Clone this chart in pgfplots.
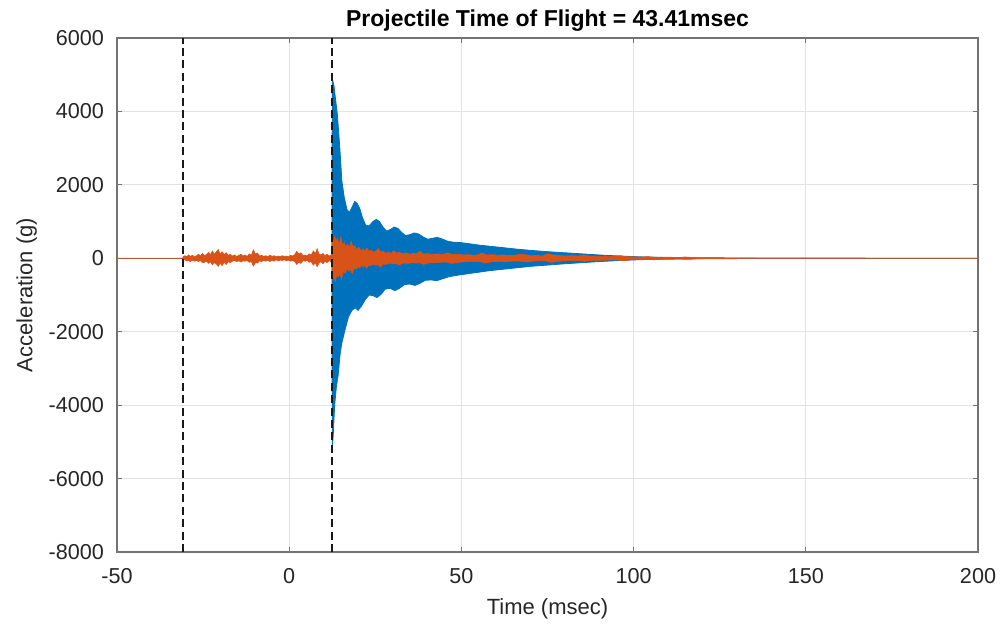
\documentclass[border=0pt]{standalone}
\usepackage{fontspec}
\setmainfont{Liberation Sans}
\usepackage{pgfplots}
\pgfplotsset{compat=1.18}
\definecolor{mblue}{rgb}{0,0.447,0.741}
\definecolor{morange}{rgb}{0.85,0.325,0.098}
\definecolor{axgray}{gray}{0.45}
\definecolor{gridgray}{gray}{0.89}
\begin{document}
\begin{tikzpicture}
\useasboundingbox (-58.5pt,-37pt) rectangle (444pt,276pt);
\begin{axis}[
  at={(0,0)}, anchor=south west,
  scale only axis, width=430.5pt, height=257pt,
  xmin=-50, xmax=200, ymin=-8000, ymax=6000,
  xtick={-50,0,50,100,150,200},
  ytick={-8000,-6000,-4000,-2000,0,2000,4000,6000},
  scaled y ticks=false,
  /pgf/number format/assume math mode=true,
  /pgf/number format/1000 sep={},
  tick label style={font=\fontsize{10.8}{12}\selectfont, text=black!85},
  label style={font=\fontsize{11}{13}\selectfont, text=black!85},
  title style={font=\fontsize{11.5}{13}\selectfont\bfseries, yshift=-6pt},
  title={Projectile Time of Flight = 43.41msec},
  xlabel={Time (msec)},
  ylabel={Acceleration (g)},
  grid=major, major grid style={gridgray, line width=0.5pt},
  axis line style={axgray, line width=0.6pt},
  tick style={axgray, line width=0.6pt},
  tick align=inside, major tick length=2.5pt,
  xticklabel style={yshift=-4.5pt},
  yticklabel style={xshift=-3pt},
  ylabel style={yshift=-1pt},
  xlabel style={yshift=-0.5pt},
]
% blue baseline before impact
\addplot[mblue!60!gray, line width=0.3pt] coordinates {(-50,0) (12.4,0)};
% blue (sensor 1) signal envelope
\addplot[fill=mblue, draw=mblue, line width=0.4pt] coordinates {
(12.4,0) (12.5,4900) (13.0,4700) (13.5,4300) (14.0,3900) (14.7,3000)
(15.3,2100) (16.0,1650) (16.8,1320) (17.5,1250) (18.3,1400) (19.0,1550) (19.7,1500)
(20.5,1350) (21.3,1100) (22.2,900) (23.2,880) (24.3,1000) (25.3,1060) (26.3,990)
(27.3,840) (28.3,740) (29.3,780) (30.5,850) (31.6,810) (32.7,700) (33.8,620)
(35.0,640) (36.3,690) (37.6,660) (38.9,580) (40.2,520) (41.5,540) (42.9,570)
(44.3,530) (45.8,470) (47.5,440) (49.5,430) (52,400) (55,360) (58,330) (62,290)
(66,250) (70,215) (75,180) (80,150) (85,120) (90,90) (95,65) (100,45) (105,30)
(110,20) (120,12) (140,6) (170,3) (200,2)
(200,-2) (170,-3) (140,-6) (120,-12) (110,-20) (105,-30) (100,-45) (95,-65)
(90,-90) (85,-120) (80,-150) (75,-185) (70,-220) (66,-260) (62,-300) (58,-340)
(55,-380) (52,-420) (49,-460) (46.5,-500) (44.5,-560) (42.9,-610) (41.2,-590)
(39.5,-600) (38.0,-680) (36.5,-740) (34.9,-700) (33.4,-720) (32.0,-820)
(30.7,-880) (29.3,-820) (27.9,-840) (26.7,-980) (25.5,-1070) (24.4,-1020)
(23.2,-1000) (22.0,-1140) (21.0,-1300) (20.0,-1420) (19.2,-1350) (18.2,-1420)
(17.2,-1600) (16.2,-1950) (15.3,-2300) (14.8,-2600) (14.2,-3200) (13.7,-3500)
(13.2,-4000) (12.8,-4800) (12.5,-5200) (12.4,0)
} -- cycle;
% orange (sensor 2) signal envelope
\addplot[fill=morange, draw=morange, line width=0.3pt] coordinates {
(-50,4) (-31,4) (-30.8,40) (-30.3,70) (-29.8,40) (-29.2,90) (-28.7,50) (-28.1,80)
(-27.5,40) (-26.9,70) (-26.3,110) (-25.8,60) (-25.2,130) (-24.6,70) (-24,100)
(-23.4,160) (-22.9,90) (-22.3,200) (-21.8,110) (-21.2,170) (-20.6,240) (-20.1,120)
(-19.5,180) (-18.9,100) (-18.3,150) (-17.7,80) (-17.1,110) (-16.5,60) (-15.9,90)
(-15.2,50) (-14.6,80) (-14,110) (-13.4,60) (-12.8,90) (-12.2,50) (-11.6,120)
(-11,80) (-10.4,230) (-9.8,110) (-9.2,140) (-8.6,60) (-8,80) (-7.4,50) (-6.8,70)
(-6.2,40) (-5.6,90) (-5,50) (-4.4,70) (-3.8,40) (-3.2,60) (-2.6,40) (-2,70)
(-1.4,50) (-0.8,60) (-0.2,40) (0.4,80) (1,60) (1.6,100) (2.2,190) (2.8,110)
(3.4,150) (4,70) (4.6,90) (5.2,60) (5.8,120) (6.4,90) (7,200) (7.6,130) (8.1,260)
(8.6,120) (9.2,90) (9.8,130) (10.4,70) (11,110) (11.6,60) (12.2,90)
(12.5,560) (12.8,420) (13.2,600) (13.6,450) (14,540) (14.5,380) (15,580) (15.5,350)
(16,430) (16.5,300) (17,390) (17.5,280) (18,460) (18.5,300) (19,340) (19.6,230)
(20.2,300) (20.8,200) (21.4,260) (22,190) (22.6,280) (23.2,180) (23.8,220)
(24.5,160) (25.2,200) (25.9,260) (26.6,170) (27.3,190) (28,140) (28.8,170)
(29.6,130) (30.4,200) (31.2,140) (32,160) (33,120) (34,150) (35,110) (36,140)
(37,120) (38,190) (39,110) (40,130) (41.5,100) (43,120) (44.5,100) (46,150)
(47.5,100) (49,110) (50.5,90) (52,100) (53.5,80) (55,100) (56,140) (57.5,90)
(59,100) (60.5,80) (62,90) (64,75) (66,90) (68,110) (70,70) (72,80) (73.5,60)
(75,120) (76.5,90) (78,80) (80,60) (82,70) (84,60) (85.5,90) (87,60) (89,55)
(91,50) (93,45) (96,70) (98,45) (100,40) (102,30) (104,45) (107,25) (110,30)
(113,20) (115,35) (118,15) (121,10) (126,6) (135,4) (200,4)
(200,-4) (135,-4) (126,-6) (121,-10) (118,-18) (116,-32) (113,-20) (111,-28)
(108,-25) (106,-40) (103,-30) (101,-38) (99,-45) (97,-65) (95,-45) (93,-45)
(91,-55) (89,-55) (87,-60) (86,-85) (84,-60) (83,-65) (81,-65) (79,-75)
(77.5,-90) (76,-110) (74.5,-70) (73,-65) (71,-75) (69,-100) (67,-80) (65,-75)
(63,-90) (61,-85) (59,-90) (57,-130) (55.5,-95) (54.5,-85) (53,-90) (51,-95)
(49,-110) (47,-140) (45.5,-100) (44.5,-105) (43,-120) (41.5,-110) (40,-140)
(39,-170) (38,-120) (37,-130) (35.5,-120) (34.5,-140) (33,-130) (32,-190)
(31,-140) (30,-150) (29,-130) (28,-170) (27.3,-150) (26.5,-240) (25.8,-170)
(25,-190) (24.4,-160) (23.8,-200) (23.1,-180) (22.5,-270) (21.9,-200) (21.5,-230)
(21,-190) (20.5,-260) (20,-220) (19.5,-300) (18.9,-260) (18.3,-420) (17.8,-300)
(17.3,-350) (16.8,-280) (16.3,-400) (15.7,-360) (15.2,-560) (14.7,-420)
(14.2,-500) (13.8,-460) (13.4,-620) (13,-480) (12.6,-580) (12.3,-100)
(12.2,-100) (11.6,-60) (11,-120) (10.4,-80) (9.8,-150) (9.2,-90) (8.6,-140)
(8.1,-230) (7.6,-120) (7,-190) (6.4,-90) (5.8,-110) (5.2,-60) (4.6,-80) (4,-60)
(3.4,-140) (2.8,-100) (2.2,-170) (1.6,-90) (1,-60) (0.4,-80) (-0.2,-50)
(-0.8,-70) (-1.4,-40) (-2,-60) (-2.6,-50) (-3.2,-70) (-3.8,-40) (-4.4,-80)
(-5,-50) (-5.6,-90) (-6.2,-50) (-6.8,-80) (-7.4,-60) (-8,-90) (-8.6,-70)
(-9.2,-130) (-9.8,-120) (-10.4,-210) (-11,-90) (-11.6,-110) (-12.2,-60)
(-12.8,-80) (-13.4,-70) (-14,-100) (-14.6,-70) (-15.2,-90) (-15.9,-60)
(-16.5,-80) (-17.1,-120) (-17.7,-90) (-18.3,-170) (-18.9,-110) (-19.5,-200)
(-20.1,-130) (-20.6,-220) (-21.2,-150) (-21.8,-120) (-22.3,-180) (-22.9,-90)
(-23.4,-140) (-24,-80) (-24.6,-110) (-25.2,-120) (-25.8,-60) (-26.3,-90)
(-26.9,-60) (-27.5,-80) (-28.1,-50) (-28.7,-90) (-29.2,-60) (-29.8,-70)
(-30.3,-40) (-30.8,-30) (-31,-4) (-50,-4)
} -- cycle;
% time-of-flight markers
\addplot[black!90, line width=0.9pt, dash pattern=on 4pt off 2.2pt] coordinates {(-30.9,-8000) (-30.9,6000)};
\addplot[black!90, line width=0.9pt, dash pattern=on 4pt off 2.2pt] coordinates {(12.5,-8000) (12.5,6000)};
\end{axis}
\end{tikzpicture}
\end{document}
